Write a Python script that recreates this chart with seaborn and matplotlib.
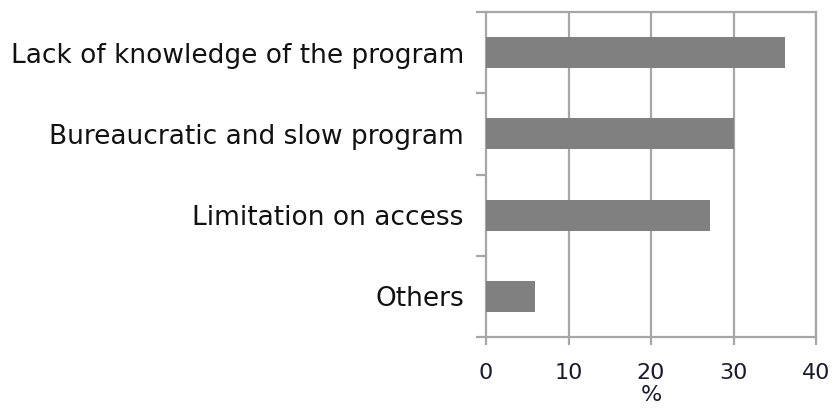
import numpy as np
import pandas as pd
import matplotlib
matplotlib.use('Agg')
import matplotlib.pyplot as plt
import seaborn as sns

# data
reasons = ['Lack of knowledge of the program', 'Bureaucratic and slow program',
           'Limitation on access', 'Others']
percent = [36.2, 30.0, 27.1, 5.9]
x_ticks = [0, 10, 20, 30, 40]

df = pd.DataFrame({'reason': reasons, 'pct': percent})

sns.set_style('white')
plt.rcParams['font.family'] = ['DejaVu Sans']

fig = plt.figure(figsize=(8.32, 4.12), dpi=100)
ax = fig.add_axes([486/832, 75/412, 330/832, 325/412])

sns.barplot(data=df, x='pct', y='reason', orient='h', color='#808080',
            saturation=1, width=0.38, linewidth=0, ax=ax, zorder=3)

grid_col = '#a6a6a6'
ax.set_xlim(0, 40)
ax.set_ylim(3.5, -0.5)
ax.set_xticks(x_ticks)
ax.set_xticklabels([str(t) for t in x_ticks], fontsize=16, color='#1a1a2a')
for t in x_ticks[1:]:
    ax.axvline(t, color=grid_col, lw=1.6, zorder=1)

# category labels at bar centres, tick marks at category borders
ax.set_yticks(range(len(reasons)))
ax.set_yticklabels(reasons, fontsize=19, color='#111111')
ax.set_yticks(np.arange(-0.5, len(reasons)), minor=True)
ax.tick_params(axis='y', which='major', length=0, pad=16)
ax.tick_params(axis='y', which='minor', length=7, width=1.6, color=grid_col, left=True)
ax.tick_params(axis='x', length=6, width=1.6, color=grid_col, bottom=True, pad=13)

for s in ax.spines.values():
    s.set_color(grid_col)
    s.set_linewidth(1.6)

ax.set_ylabel('')
ax.set_xlabel('%', fontsize=16, color='#1a1a2a', labelpad=1)

fig.savefig('out.png', dpi=100)
